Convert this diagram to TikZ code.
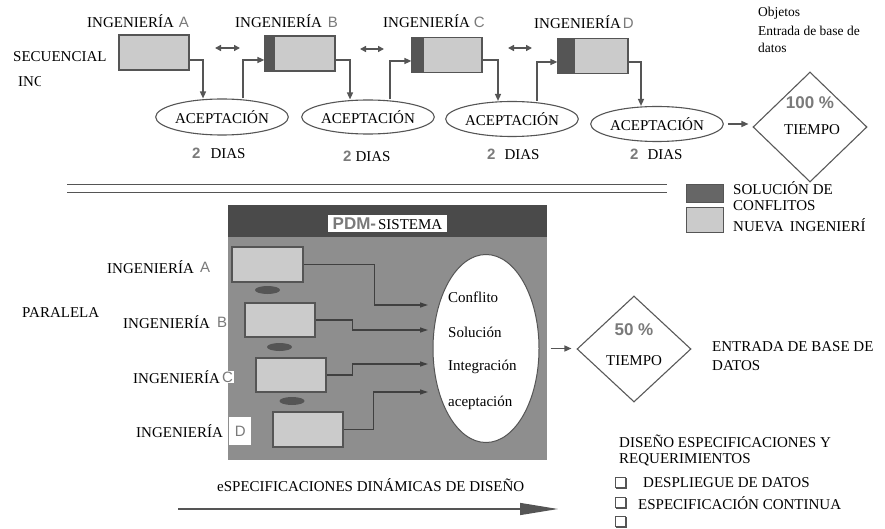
\documentclass[tikz,border=0pt]{standalone}
\usepackage{fontspec}
\setmainfont{Liberation Serif}
\newfontfamily\sansf{Liberation Sans}
\usetikzlibrary{shapes.geometric,arrows.meta,shadows}
\definecolor{ln}{HTML}{555555}
\definecolor{lbox}{HTML}{CBCBCB}
\definecolor{dband}{HTML}{555555}
\definecolor{panel}{HTML}{8E8E8E}
\definecolor{phead}{HTML}{4A4A4A}
\definecolor{lett}{HTML}{7A7A7A}
\newcommand\glet[1]{{\sansf\fontsize{15}{17}\selectfont\color{lett}#1}}
\newcommand\gnum[1]{{\sansf\bfseries\fontsize{15}{17}\selectfont\color{lett}#1}}
\tikzset{
  txt/.style={inner sep=0pt, anchor=west, font=\fontsize{15}{17}\selectfont},
  stxt/.style={inner sep=0pt, anchor=west, font=\fontsize{13.5}{16}\selectfont},
  ctxt/.style={inner sep=0pt, font=\fontsize{15}{17}\selectfont},
  engbox/.style={draw=ln, line width=1.2pt, fill=lbox, minimum width=70pt, minimum height=35pt, inner sep=0pt},
  band/.style={path picture={\fill[dband] (path picture bounding box.north west) rectangle ([xshift=#1]path picture bounding box.south west);}},
  accept/.style={ellipse, draw=ln, line width=1.1pt, fill=white, inner sep=0pt, font=\fontsize{15}{17}\selectfont},
  flow/.style={draw=ln, line width=1.4pt, -{Triangle[length=7pt,width=6pt]}},
  pflow/.style={draw=black!75, line width=1.2pt, -{Triangle[length=8pt,width=5pt]}},
  dbl/.style={draw=ln, line width=1.8pt, {Triangle[length=6pt,width=6pt]}-{Triangle[length=6pt,width=6pt]}},
  tdiam/.style={diamond, draw=black!65, line width=1.1pt, inner sep=0pt},
  lens/.style={ellipse, fill=ln, minimum width=25pt, minimum height=8pt, inner sep=0pt},
  pbox/.style={draw=ln, line width=1.1pt, fill=lbox, inner sep=0pt},
  cbx/.style={draw=ln, fill=white, minimum size=10pt, inner sep=0pt, line width=1pt,
    copy shadow={shadow xshift=1.4pt, shadow yshift=-1.4pt, fill=ln, draw=ln}},
}
\begin{document}
\begin{tikzpicture}[x=1pt,y=-1pt]
\useasboundingbox[fill=white] (0,0) rectangle (885,529);

% ---------- SECUENCIAL ----------
\node[txt] (sec) at (13,57) {SECUENCIAL};
\begin{scope}
\clip (10,70) rectangle (40,95);
\node[txt] (inc) at (18,82) {ING};
\end{scope}

\node[txt] (ta) at (87,21) {INGENIERÍA\hspace{5pt}\glet{A}};
\node[txt] (tb) at (235,21) {INGENIERÍA\hspace{6pt}\glet{B}};
\node[txt] (tc) at (383,21) {INGENIERÍA\hspace{4pt}\glet{C}};
\node[txt] (td) at (534,22) {INGENIERÍA\hspace{2pt}\glet{D}};

\node[engbox] (ia) at (154,52.5) {};
\node[engbox, band=10pt] (ib) at (300,53.5) {};
\node[engbox, band=12pt] (ic) at (447,55) {};
\node[engbox, band=17pt] (id) at (593,56) {};

\node[accept, minimum width=130pt, minimum height=36pt] (e1) at (222,117) {ACEPTACIÓN};
\node[accept, minimum width=127pt, minimum height=34pt] (e2) at (368,117) {ACEPTACIÓN};
\node[accept, minimum width=121pt, minimum height=35pt] (e3) at (512,119) {ACEPTACIÓN};
\node[accept, minimum width=131pt, minimum height=35pt] (e4) at (657,124) {ACEPTACIÓN};

\draw[flow] ([yshift=-7.5pt]ia.east) -| ([xshift=-19pt]e1.north);
\draw[flow] ([xshift=21pt]e1.north) |- ([yshift=-6.5pt]ib.west);
\draw[flow] ([yshift=-6.5pt]ib.east) -| ([xshift=-18pt]e2.north);
\draw[flow] ([xshift=22pt]e2.north) |- ([yshift=-6pt]ic.west);
\draw[flow] ([yshift=-5pt]ic.east) -| ([xshift=-14pt]e3.north);
\draw[flow] ([xshift=25pt]e3.north) |- ([yshift=-6pt]id.west);
\draw[flow] ([yshift=-6pt]id.east) -| ([xshift=-16pt]e4.north);

\coordinate (ab1) at (215,48); \coordinate (ab2) at (240,48);
\coordinate (bc1) at (360,49); \coordinate (bc2) at (384,49);
\coordinate (cd1) at (508,48); \coordinate (cd2) at (532,48);
\draw[dbl] (ab1) -- (ab2);
\draw[dbl] (bc1) -- (bc2);
\draw[dbl] (cd1) -- (cd2);

\node[txt] (d1t) at (192,153) {\gnum{2}\hspace{10pt}DIAS};
\node[txt] (d2t) at (343,156) {\gnum{2}\hspace{4pt}DIAS};
\node[txt] (d3t) at (487,154) {\gnum{2}\hspace{9pt}DIAS};
\node[txt] (d4t) at (630,154) {\gnum{2}\hspace{9pt}DIAS};

\node[tdiam, minimum width=114pt, minimum height=110pt] (dm1) at (810,127) {};
\node[ctxt] (p100) at (810,103) {{\sansf\bfseries\fontsize{17}{17}\selectfont\color{lett}100 \%}};
\node[ctxt] (tm1) at (812,130) {TIEMPO};
\draw[flow, shorten <=4pt, shorten >=4pt] (e4.east) -- (e4.east -| dm1.west);

\node[stxt] (ob1) at (758,13) {Objetos};
\node[stxt] (ob2) at (758,31) {Entrada de base de};
\node[stxt] (ob3) at (758,48) {datos};

% ---------- separator ----------
\coordinate (s1a) at (67,185); \coordinate (s1b) at (667,185);
\coordinate (s2a) at (67,193); \coordinate (s2b) at (667,193);
\draw[ln, line width=1pt] (s1a) -- (s1b);
\draw[ln, line width=1pt] (s2a) -- (s2b);

% ---------- legend ----------
\node[draw=ln, fill=black!60, line width=1pt, minimum width=37pt, minimum height=18pt, inner sep=0pt] (lg1) at (704.5,194) {};
\node[draw=ln, fill=lbox, line width=1pt, minimum width=37pt, minimum height=25pt, inner sep=0pt] (lg2) at (704.5,220) {};
\node[txt] (lt1) at (733,188) {SOLUCIÓN DE};
\node[txt] (lt2) at (733,206) {CONFLITOS};
\node[txt] (lt3) at (733,225) {NUEVA\hspace{6pt}INGENIERÍ};

% ---------- PDM panel ----------
\node[fill=panel, minimum width=319pt, minimum height=255pt, inner sep=0pt, anchor=north west] (pdm) at (228,205) {};
\node[fill=phead, minimum width=319pt, minimum height=32pt, inner sep=0pt, anchor=north west] (pdmh) at (228,205) {};
\node[fill=white, inner sep=0pt, minimum width=119pt, minimum height=17pt] (pdml) at (387.5,224)
  {{\sansf\bfseries\fontsize{17}{17}\selectfont\color{lett}PDM-}\hspace{2pt}{\fontsize{15}{17}\selectfont SISTEMA}};

\node[pbox, minimum width=71pt, minimum height=35pt] (pa) at (267.5,264.5) {};
\node[pbox, minimum width=70pt, minimum height=34pt] (pb) at (280,320) {};
\node[pbox, minimum width=70pt, minimum height=34pt] (pc) at (291,375) {};
\node[pbox, minimum width=70pt, minimum height=35pt] (pd) at (308,429.5) {};
\node[lens] (l1) at (267.5,290) {};
\node[lens] (l2) at (279.5,347) {};
\node[lens] (l3) at (292,401) {};

\node[ellipse, fill=white, draw=ln, line width=1pt, minimum width=106pt, minimum height=188pt, inner sep=0pt] (cs) at (486,348.5) {};
\node[txt] (c1) at (448,297) {Conflito};
\node[txt] (c2) at (448,332) {Solución};
\node[txt] (c3) at (448,367) {Integración};
\node[txt] (c4) at (448,403) {aceptación};

\coordinate (ka) at (428,305);
\coordinate (kb) at (428,330);
\coordinate (kc) at (428,364);
\coordinate (kd) at (428,392);
\draw[pflow] (pa.east) -- ++(71,0) |- (ka);
\draw[pflow] (pb.east) -- ++(37,0) |- (kb);
\draw[pflow] (pc.east) -- ++(26,0) |- (kc);
\draw[pflow] (pd.east) -- ++(30,0) |- (kd);

\node[tdiam, minimum width=114pt, minimum height=106pt] (dm2) at (634,349) {};
\node[ctxt] (p50) at (634,330) {{\sansf\bfseries\fontsize{17}{17}\selectfont\color{lett}50 \%}};
\node[ctxt] (tm2) at (634,361) {TIEMPO};
\draw[flow, shorten <=11pt, shorten >=5pt] (cs.east) -- (cs.east -| dm2.west);

% left labels
\node[txt] (pl) at (22,313) {PARALELA};
\node[txt] (la) at (107,267) {INGENIERÍA};
\node[inner sep=0pt, anchor=west] (laL) at (200,267) {\glet{A}};
\node[txt] (lb) at (123,322) {INGENIERÍA};
\node[fill=white, inner sep=1pt, anchor=west] (lbL) at (216,322) {\glet{B}};
\node[txt] (lc) at (133,377) {INGENIERÍA};
\node[fill=white, inner sep=1pt, anchor=west] (lcL) at (221,377) {\glet{C}};
\node[txt] (ld) at (136,431) {INGENIERÍA};
\node[fill=white, inner sep=0pt, minimum width=22pt, minimum height=28pt, anchor=west] (ldL) at (229,431) {\glet{D}};

% ---------- right bottom texts ----------
\node[txt] (en1) at (712,347) {ENTRADA DE BASE DE};
\node[txt] (en2) at (712,366) {DATOS};
\node[txt] (ds1) at (619,441) {DISEÑO ESPECIFICACIONES Y};
\node[txt] (ds2) at (619,460) {REQUERIMIENTOS};
\node[cbx] (cb1) at (620,482) {};
\node[cbx] (cb2) at (620,502) {};
\node[cbx] (cb3) at (620,521) {};
\node[txt] (it1) at (643,483) {DESPLIEGUE DE DATOS};
\node[txt] (it2) at (638,503) {ESPECIFICACIÓN CONTINUA};

% ---------- bottom ----------
\node[txt] (esp) at (217,485) {eSPECIFICACIONES DINÁMICAS DE DISEÑO};
\coordinate (ba1) at (178,509);
\coordinate (ba2) at (558,509);
\draw[ln, line width=1.3pt, -{Triangle[length=38pt,width=12pt]}] (ba1) -- (ba2);
\end{tikzpicture}
\end{document}
